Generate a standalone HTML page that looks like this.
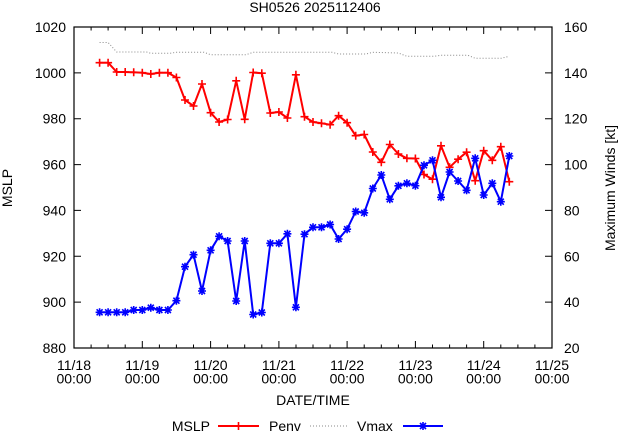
<!DOCTYPE html>
<html>
<head>
<meta charset="utf-8">
<style>
  html, body { margin: 0; padding: 0; background: #ffffff; }
  body { width: 619px; height: 432px; overflow: hidden; }
  svg { display: block; }
  text { font-family: "Liberation Sans", Arial, sans-serif; font-size: 14px; fill: #000; }
</style>
</head>
<body>
<svg width="619" height="432" viewBox="0 0 619 432" xmlns="http://www.w3.org/2000/svg">
  <defs>
    <path id="pl" d="M-4,0h8M0,-4v8" stroke="#ff0000" stroke-width="1.6" fill="none"/>
    <path id="st" d="M-4,0h8M0,-4v8M-3,-3l6,6M-3,3l6,-6" stroke="#0000ff" stroke-width="1.6" fill="none"/>
  </defs>

  <!-- title -->
  <text x="315" y="12" text-anchor="middle">SH0526 2025112406</text>

  <!-- frame -->
  <rect x="74" y="27" width="478" height="321" fill="none" stroke="#000" stroke-width="1.2"/>

  <!-- x ticks: bottom and top -->
  <g stroke="#000" stroke-width="1">
    <!-- major -->
    <path d="M142.3,348v-7M210.6,348v-7M278.9,348v-7M347.1,348v-7M415.4,348v-7M483.7,348v-7"/>
    <path d="M142.3,27v7M210.6,27v7M278.9,27v7M347.1,27v7M415.4,27v7M483.7,27v7"/>
    <!-- minor bottom -->
    <path d="M91.1,348v-3.5M108.1,348v-3.5M125.2,348v-3.5
             M159.4,348v-3.5M176.4,348v-3.5M193.5,348v-3.5
             M227.6,348v-3.5M244.7,348v-3.5M261.8,348v-3.5
             M296,348v-3.5M313,348v-3.5M330.1,348v-3.5
             M364.2,348v-3.5M381.3,348v-3.5M398.4,348v-3.5
             M432.5,348v-3.5M449.6,348v-3.5M466.6,348v-3.5
             M500.8,348v-3.5M517.9,348v-3.5M534.9,348v-3.5"/>
    <!-- minor top -->
    <path d="M91.1,27v3.5M108.1,27v3.5M125.2,27v3.5
             M159.4,27v3.5M176.4,27v3.5M193.5,27v3.5
             M227.6,27v3.5M244.7,27v3.5M261.8,27v3.5
             M296,27v3.5M313,27v3.5M330.1,27v3.5
             M364.2,27v3.5M381.3,27v3.5M398.4,27v3.5
             M432.5,27v3.5M449.6,27v3.5M466.6,27v3.5
             M500.8,27v3.5M517.9,27v3.5M534.9,27v3.5"/>
    <!-- y ticks left -->
    <path d="M74,72.9h7M74,118.7h7M74,164.6h7M74,210.4h7M74,256.3h7M74,302.1h7"/>
    <!-- y ticks right -->
    <path d="M552,72.9h-7M552,118.7h-7M552,164.6h-7M552,210.4h-7M552,256.3h-7M552,302.1h-7"/>
  </g>

  <!-- left y labels -->
  <g text-anchor="end">
    <text x="66" y="32">1020</text>
    <text x="66" y="77.9">1000</text>
    <text x="66" y="123.7">980</text>
    <text x="66" y="169.6">960</text>
    <text x="66" y="215.4">940</text>
    <text x="66" y="261.3">920</text>
    <text x="66" y="307.1">900</text>
    <text x="66" y="353">880</text>
  </g>

  <!-- right y labels -->
  <g text-anchor="start">
    <text x="564" y="32">160</text>
    <text x="564" y="77.9">140</text>
    <text x="564" y="123.7">120</text>
    <text x="564" y="169.6">100</text>
    <text x="564" y="215.4">80</text>
    <text x="564" y="261.3">60</text>
    <text x="564" y="307.1">40</text>
    <text x="564" y="353">20</text>
  </g>

  <!-- x labels -->
  <g text-anchor="middle">
    <text x="74" y="370">11/18</text><text x="74" y="383.5">00:00</text>
    <text x="142.3" y="370">11/19</text><text x="142.3" y="383.5">00:00</text>
    <text x="210.6" y="370">11/20</text><text x="210.6" y="383.5">00:00</text>
    <text x="278.9" y="370">11/21</text><text x="278.9" y="383.5">00:00</text>
    <text x="347.1" y="370">11/22</text><text x="347.1" y="383.5">00:00</text>
    <text x="415.4" y="370">11/23</text><text x="415.4" y="383.5">00:00</text>
    <text x="483.7" y="370">11/24</text><text x="483.7" y="383.5">00:00</text>
    <text x="552" y="370">11/25</text><text x="552" y="383.5">00:00</text>
  </g>

  <!-- axis titles -->
  <text x="313" y="405" text-anchor="middle">DATE/TIME</text>
  <text transform="translate(12,188) rotate(-90)" text-anchor="middle">MSLP</text>
  <text transform="translate(615,188) rotate(-90)" text-anchor="middle">Maximum Winds [kt]</text>

  <!-- Penv dotted -->
  <path d="M99.6,42.5 L108.1,42.5 L116.7,52 L146.5,52 L150.8,53.3 L170,53.3 L176.4,52.3 L204,52.3 L210.6,54.7 L246,54.7 L253.2,52.3 L332,52.3 L338.6,54 L366,54 L372.8,52.3 L398.4,53 L406.9,56.3 L434,56.3 L441,55.3 L468,55.3 L475.2,58.3 L501,58.3 L509.3,56.3"
        fill="none" stroke="#8a8a8a" stroke-width="1" stroke-dasharray="1,2"/>

  <!-- MSLP red -->
  <polyline fill="none" stroke="#ff0000" stroke-width="2" stroke-linejoin="round"
    points="99.6,62.7 108.1,62.7 116.7,72 125.2,72 133.7,72.3 142.3,72.7 150.8,74 159.4,72.7 167.9,72.7 176.4,77.5 185,100 193.5,106 202,84 210.6,112.7 219.1,122 227.6,119.5 236.2,80.8 244.7,119.3 253.2,72.5 261.8,73.2 270.3,113 278.9,112 287.4,118 295.9,74.8 304.5,116.7 313,122 321.5,123.3 330.1,124.7 338.6,115.7 347.1,122.7 355.7,135.7 364.2,134.5 372.8,152 381.3,162.3 389.8,144.5 398.4,154 406.9,158.3 415.4,158.5 424,174.5 432.5,179.2 441,145.8 449.6,167.3 458.1,159.2 466.6,152.2 475.2,180.7 483.7,150.7 492.3,160.3 500.8,146.7 509.3,181.7"/>
  <g>
    <use href="#pl" x="99.6" y="62.7"/><use href="#pl" x="108.1" y="62.7"/><use href="#pl" x="116.7" y="72"/><use href="#pl" x="125.2" y="72"/><use href="#pl" x="133.7" y="72.3"/><use href="#pl" x="142.3" y="72.7"/><use href="#pl" x="150.8" y="74"/><use href="#pl" x="159.4" y="72.7"/><use href="#pl" x="167.9" y="72.7"/><use href="#pl" x="176.4" y="77.5"/>
    <use href="#pl" x="185" y="100"/><use href="#pl" x="193.5" y="106"/><use href="#pl" x="202" y="84"/><use href="#pl" x="210.6" y="112.7"/><use href="#pl" x="219.1" y="122"/><use href="#pl" x="227.6" y="119.5"/><use href="#pl" x="236.2" y="80.8"/><use href="#pl" x="244.7" y="119.3"/><use href="#pl" x="253.2" y="72.5"/><use href="#pl" x="261.8" y="73.2"/>
    <use href="#pl" x="270.3" y="113"/><use href="#pl" x="278.9" y="112"/><use href="#pl" x="287.4" y="118"/><use href="#pl" x="295.9" y="74.8"/><use href="#pl" x="304.5" y="116.7"/><use href="#pl" x="313" y="122"/><use href="#pl" x="321.5" y="123.3"/><use href="#pl" x="330.1" y="124.7"/><use href="#pl" x="338.6" y="115.7"/><use href="#pl" x="347.1" y="122.7"/>
    <use href="#pl" x="355.7" y="135.7"/><use href="#pl" x="364.2" y="134.5"/><use href="#pl" x="372.8" y="152"/><use href="#pl" x="381.3" y="162.3"/><use href="#pl" x="389.8" y="144.5"/><use href="#pl" x="398.4" y="154"/><use href="#pl" x="406.9" y="158.3"/><use href="#pl" x="415.4" y="158.5"/><use href="#pl" x="424" y="174.5"/><use href="#pl" x="432.5" y="179.2"/>
    <use href="#pl" x="441" y="145.8"/><use href="#pl" x="449.6" y="167.3"/><use href="#pl" x="458.1" y="159.2"/><use href="#pl" x="466.6" y="152.2"/><use href="#pl" x="475.2" y="180.7"/><use href="#pl" x="483.7" y="150.7"/><use href="#pl" x="492.3" y="160.3"/><use href="#pl" x="500.8" y="146.7"/><use href="#pl" x="509.3" y="181.7"/>
  </g>

  <!-- Vmax blue -->
  <polyline fill="none" stroke="#0000ff" stroke-width="2" stroke-linejoin="round"
    points="99.6,312.3 108.1,312.3 116.7,312.3 125.2,312.3 133.7,310 142.3,310 150.8,307.7 159.4,310 167.9,310 176.4,300.7 185,266.7 193.5,254.7 202,291 210.6,250.3 219.1,236.3 227.6,241 236.2,301 244.7,241 253.2,314.5 261.8,312.5 270.3,243.3 278.9,243.3 287.4,233.8 295.9,307.3 304.5,234.2 313,227.3 321.5,227.3 330.1,224.5 338.6,239 347.1,229.2 355.7,211.5 364.2,212.8 372.8,188.5 381.3,175 389.8,199.3 398.4,185.8 406.9,183.3 415.4,185.7 424,165.3 432.5,160.3 441,197.3 449.6,172 458.1,181 466.6,190.3 475.2,158.3 483.7,195 492.3,183.3 500.8,201.7 509.3,156"/>
  <g>
    <use href="#st" x="99.6" y="312.3"/><use href="#st" x="108.1" y="312.3"/><use href="#st" x="116.7" y="312.3"/><use href="#st" x="125.2" y="312.3"/><use href="#st" x="133.7" y="310"/><use href="#st" x="142.3" y="310"/><use href="#st" x="150.8" y="307.7"/><use href="#st" x="159.4" y="310"/><use href="#st" x="167.9" y="310"/><use href="#st" x="176.4" y="300.7"/>
    <use href="#st" x="185" y="266.7"/><use href="#st" x="193.5" y="254.7"/><use href="#st" x="202" y="291"/><use href="#st" x="210.6" y="250.3"/><use href="#st" x="219.1" y="236.3"/><use href="#st" x="227.6" y="241"/><use href="#st" x="236.2" y="301"/><use href="#st" x="244.7" y="241"/><use href="#st" x="253.2" y="314.5"/><use href="#st" x="261.8" y="312.5"/>
    <use href="#st" x="270.3" y="243.3"/><use href="#st" x="278.9" y="243.3"/><use href="#st" x="287.4" y="233.8"/><use href="#st" x="295.9" y="307.3"/><use href="#st" x="304.5" y="234.2"/><use href="#st" x="313" y="227.3"/><use href="#st" x="321.5" y="227.3"/><use href="#st" x="330.1" y="224.5"/><use href="#st" x="338.6" y="239"/><use href="#st" x="347.1" y="229.2"/>
    <use href="#st" x="355.7" y="211.5"/><use href="#st" x="364.2" y="212.8"/><use href="#st" x="372.8" y="188.5"/><use href="#st" x="381.3" y="175"/><use href="#st" x="389.8" y="199.3"/><use href="#st" x="398.4" y="185.8"/><use href="#st" x="406.9" y="183.3"/><use href="#st" x="415.4" y="185.7"/><use href="#st" x="424" y="165.3"/><use href="#st" x="432.5" y="160.3"/>
    <use href="#st" x="441" y="197.3"/><use href="#st" x="449.6" y="172"/><use href="#st" x="458.1" y="181"/><use href="#st" x="466.6" y="190.3"/><use href="#st" x="475.2" y="158.3"/><use href="#st" x="483.7" y="195"/><use href="#st" x="492.3" y="183.3"/><use href="#st" x="500.8" y="201.7"/><use href="#st" x="509.3" y="156"/>
  </g>

  <!-- legend -->
  <text x="210" y="431" text-anchor="end">MSLP</text>
  <line x1="218" y1="426" x2="259" y2="426" stroke="#ff0000" stroke-width="2"/>
  <use href="#pl" x="238.5" y="426"/>
  <text x="269" y="431">Penv</text>
  <line x1="310" y1="426" x2="347" y2="426" stroke="#8a8a8a" stroke-width="1" stroke-dasharray="1,2"/>
  <text x="357" y="431">Vmax</text>
  <line x1="403" y1="426" x2="443" y2="426" stroke="#0000ff" stroke-width="2"/>
  <use href="#st" x="423" y="426"/>
</svg>
</body>
</html>
